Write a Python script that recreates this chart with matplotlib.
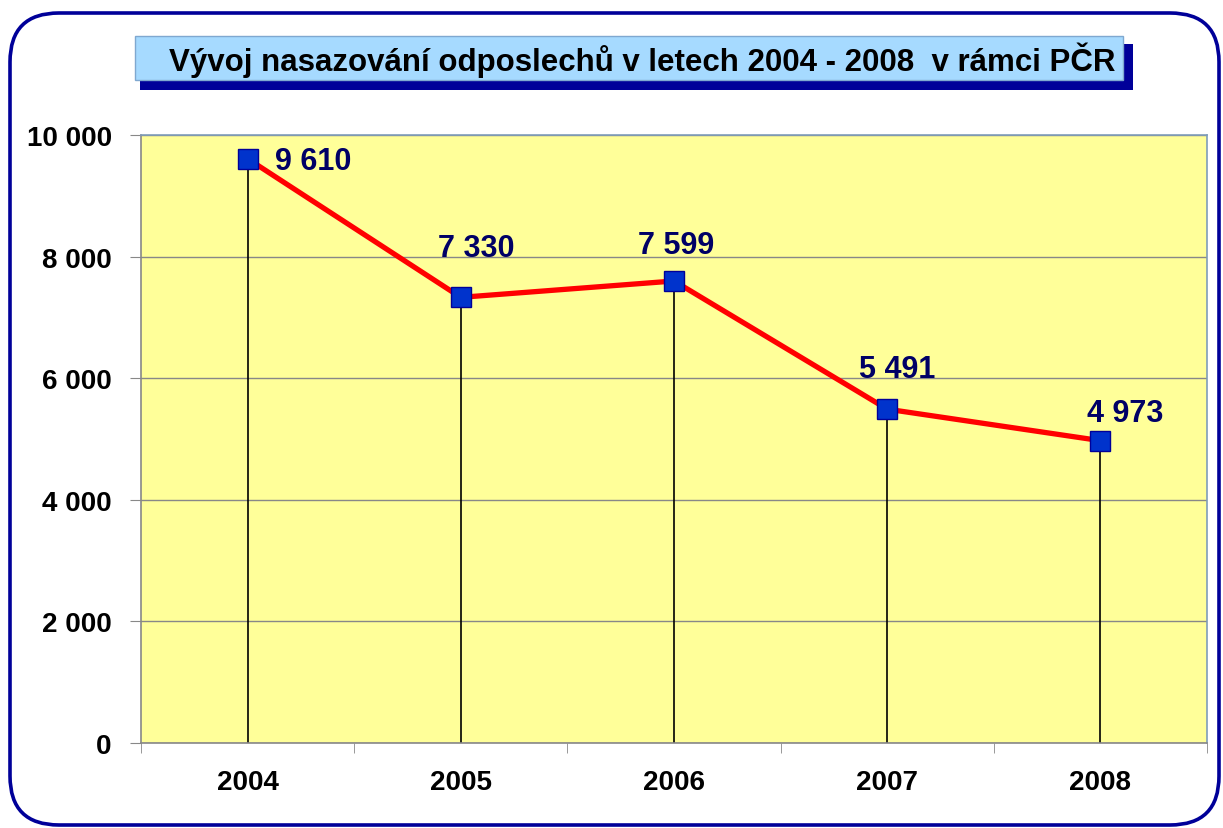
import matplotlib
matplotlib.use("Agg")
import matplotlib.pyplot as plt
from matplotlib.patches import FancyBboxPatch, Rectangle
from matplotlib.ticker import FuncFormatter

years = ["2004", "2005", "2006", "2007", "2008"]
counts = [9610, 7330, 7599, 5491, 4973]
title = "Vývoj nasazování odposlechů v letech 2004 - 2008  v rámci PČR"

# label offsets in pixels (Excel placed them by hand)
label_dx = [27, 15, 2, 10, 25]
label_dy = [-2, 41, 28, 32, 20]

plt.rcParams["font.family"] = ["Liberation Sans", "DejaVu Sans"]

W, H = 1223, 829
fig = plt.figure(figsize=(W / 100, H / 100), dpi=100)
fig.patch.set_facecolor("white")

# rounded outer frame
frame = FancyBboxPatch((10 / W, 3 / H), 1209 / W, 812 / H,
                       boxstyle="round,pad=0,rounding_size=0.04",
                       transform=fig.transFigure, fill=False,
                       edgecolor="#000099", linewidth=2.6, mutation_aspect=W / H)
fig.patches.append(frame)

ax = fig.add_axes([141 / W, 85 / H, 1066 / W, 608 / H])
ax.set_facecolor("#FFFF99")

x = list(range(len(years)))
ax.plot(x, counts, color="#FF0000", linewidth=3.8, zorder=3)
ax.vlines(x, 0, counts, color="black", linewidth=1.2, zorder=2)
ax.plot(x, counts, linestyle="none", marker="s", markersize=14,
        markerfacecolor="#0033CC", markeredgecolor="#000099", zorder=4)

for i, v in enumerate(counts):
    lbl = f"{v:,}".replace(",", " ")
    if i == 0:
        ax.annotate(lbl, (i, v), xytext=(label_dx[i], label_dy[i]),
                    textcoords="offset pixels", ha="left", va="center",
                    fontsize=22, fontweight="bold", color="#000066")
    else:
        ax.annotate(lbl, (i, v), xytext=(label_dx[i], label_dy[i]),
                    textcoords="offset pixels", ha="center", va="baseline",
                    fontsize=22, fontweight="bold", color="#000066")

ax.set_xlim(-0.5, len(years) - 0.5)
ax.set_ylim(0, 10000)
ax.set_yticks(range(0, 10001, 2000))
ax.yaxis.set_major_formatter(FuncFormatter(lambda v, p: f"{int(v):,}".replace(",", " ")))
ax.grid(axis="y", color="#888888", linewidth=1)
ax.set_axisbelow(True)

ax.set_xticks(x)
ax.set_xticklabels(years)
ax.set_xticks([i + 0.5 for i in range(-1, len(years))], minor=True)
ax.tick_params(axis="x", which="major", length=0, pad=19)
ax.tick_params(axis="x", which="minor", length=7, color="#888888", direction="out")
ax.tick_params(axis="y", length=8, color="#888888", pad=13)
for t in ax.get_xticklabels() + ax.get_yticklabels():
    t.set_fontsize(20)
    t.set_fontweight("bold")

for s in ["left", "bottom"]:
    ax.spines[s].set_color("#888888")
    ax.spines[s].set_linewidth(1.2)
for s in ["top", "right"]:
    ax.spines[s].set_color("#7F9DB9")
    ax.spines[s].set_linewidth(1.2)

# title box with shadow
fig.patches.append(Rectangle((140 / W, (H - 91) / H), 993 / W, 46 / H,
                             transform=fig.transFigure, facecolor="#000099",
                             edgecolor="none", zorder=0))
fig.patches.append(Rectangle((135 / W, (H - 81) / H), 988 / W, 44 / H,
                             transform=fig.transFigure, facecolor="#A6DAFF",
                             edgecolor="#7FA8D0", linewidth=1, zorder=1))
fig.text(642 / W, (H - 60) / H, title, ha="center", va="center",
         fontsize=22.5, fontweight="bold", color="black", zorder=2)

fig.savefig("out.png", dpi=100)
